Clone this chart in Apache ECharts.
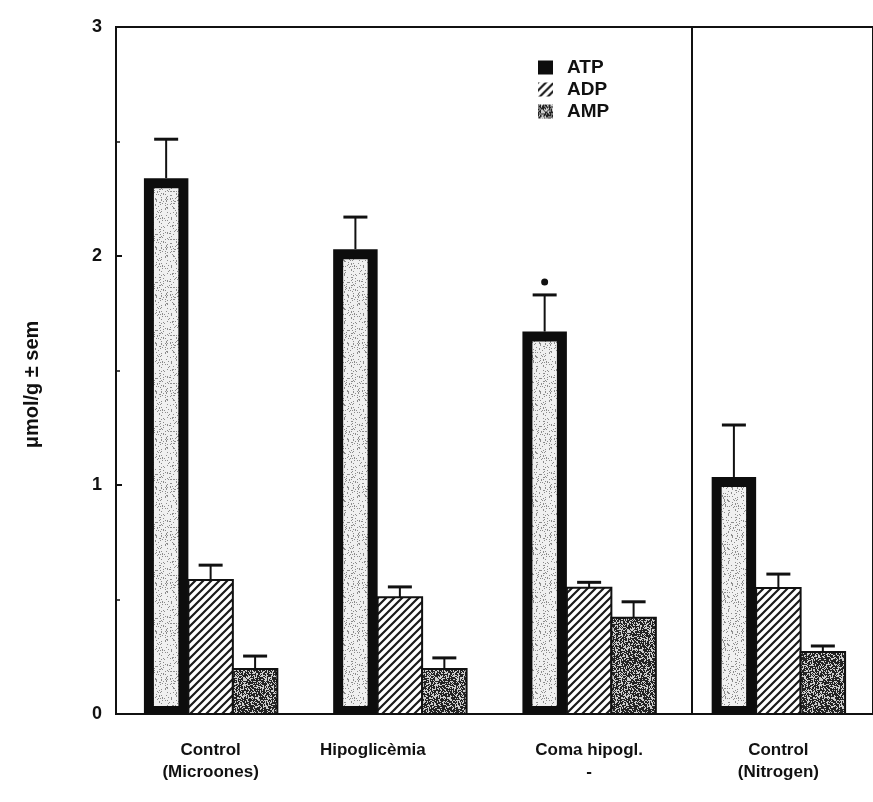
<!DOCTYPE html>
<html>
<head>
<meta charset="utf-8">
<script src="https://cdn.jsdelivr.net/npm/echarts@6/dist/echarts.min.js"></script>
<style>
  html, body { margin: 0; padding: 0; background: #fff; }
  #chart { width: 873px; height: 802px; }
</style>
</head>
<body>
<div id="chart"></div>
<script>
// Adenine nucleotide levels per experimental group (µmol/g, mean and s.e.m.)
const categories = ['Control\n(Microones)', 'Hipoglicèmia', 'Coma hipogl.\n-', 'Control\n(Nitrogen)'];
const atp = [2.34, 2.03, 1.67, 1.035];
const atpSem = [0.17, 0.14, 0.16, 0.227];
const adp = [0.585, 0.51, 0.551, 0.55];
const adpSem = [0.065, 0.045, 0.024, 0.061];
const amp = [0.197, 0.197, 0.42, 0.271];
const ampSem = [0.056, 0.048, 0.07, 0.026];
const significant = [0, 0, 1, 0];
const yTicks = { min: 0, max: 3, interval: 1 };
// separator between the microwave groups and the nitrogen group, in category units
const dividerAt = 3.04;

const FONT = "'Liberation Sans', Arial, Helvetica, sans-serif";

// small deterministic hash used for the stippled textures
function hash(x, y, s) {
  let n = Math.imul(x + 17 * s, 374761393) + Math.imul(y + 31 * s, 668265263);
  n = Math.imul(n ^ (n >>> 13), 1274126177);
  return ((n ^ (n >>> 16)) >>> 0) / 4294967296;
}

function stipple(size, seed, darkProb, dark, light) {
  const c = document.createElement('canvas');
  c.width = size; c.height = size;
  const ctx = c.getContext('2d');
  const img = ctx.createImageData(size, size);
  for (let y = 0; y < size; y++) {
    for (let x = 0; x < size; x++) {
      const v = hash(x, y, seed) < darkProb ? dark : light;
      const k = (y * size + x) * 4;
      img.data[k] = v; img.data[k + 1] = v; img.data[k + 2] = v; img.data[k + 3] = 255;
    }
  }
  ctx.putImageData(img, 0, 0);
  return c;
}

function hatch() {
  const s = 8;
  const c = document.createElement('canvas');
  c.width = s; c.height = s;
  const ctx = c.getContext('2d');
  ctx.fillStyle = '#fff';
  ctx.fillRect(0, 0, s, s);
  ctx.strokeStyle = '#1a1a1a';
  ctx.lineWidth = 2.2;
  ctx.beginPath();
  ctx.moveTo(-2, s + 2); ctx.lineTo(s + 2, -2);
  ctx.moveTo(-2, 2); ctx.lineTo(2, -2);
  ctx.moveTo(s - 2, s + 2); ctx.lineTo(s + 2, s - 2);
  ctx.stroke();
  return c;
}

const atpInner = { image: stipple(48, 1, 0.16, 140, 240), repeat: 'repeat' };
const adpFill = { image: hatch(), repeat: 'repeat' };
const ampFill = { image: stipple(48, 2, 0.62, 35, 205), repeat: 'repeat' };

const BAR_FRAC = 0.235;

function errorBar(cx, y0, y1) {
  return [
    { type: 'line', shape: { x1: cx, y1: y0, x2: cx, y2: y1 }, style: { stroke: '#111', lineWidth: 2 } },
    { type: 'line', shape: { x1: cx - 12, y1: y1, x2: cx + 12, y2: y1 }, style: { stroke: '#111', lineWidth: 3 } }
  ];
}

function makeRender(slot, kind) {
  return function (params, api) {
    const i = api.value(0), v = api.value(1), e = api.value(2), sig = api.value(3);
    const band = api.size([1, 0])[0];
    const w = band * BAR_FRAC;
    const base = api.coord([i, 0]);
    const top = api.coord([i, v]);
    const err = api.coord([i, v + e]);
    const cx = base[0] + slot * w;
    const x0 = cx - w / 2, h = base[1] - top[1];
    const children = [];
    if (kind === 'atp') {
      const b = 10;
      children.push({ type: 'rect', shape: { x: x0, y: top[1], width: w, height: h }, style: { fill: '#0d0d0d' } });
      children.push({ type: 'rect', shape: { x: x0 + b, y: top[1] + b, width: w - 2 * b, height: h - b - 8 }, style: { fill: atpInner } });
    } else {
      children.push({ type: 'rect', shape: { x: x0, y: top[1], width: w, height: h },
        style: { fill: kind === 'adp' ? adpFill : ampFill, stroke: '#111', lineWidth: 2 } });
    }
    children.push(...errorBar(cx, top[1], err[1]));
    if (sig) {
      children.push({ type: 'circle', shape: { cx: cx, cy: err[1] - 13, r: 3.5 }, style: { fill: '#111' } });
    }
    return { type: 'group', children: children };
  };
}

function rows(vals, sems, flags) {
  return vals.map((v, i) => [i, v, sems[i], flags ? flags[i] : 0]);
}

// the middle label sits a little left of its bar group
const categoryItems = categories.map((c, i) =>
  i === 1 ? { value: c, textStyle: { padding: [0, 54, 0, 0] } } : c);

const chart = echarts.init(document.getElementById('chart'), null, { renderer: 'canvas' });
chart.setOption({
  animation: false,
  backgroundColor: '#fff',
  grid: { left: 116, top: 27, right: -5, bottom: 88, show: true, borderColor: '#111', borderWidth: 2, backgroundColor: 'transparent' },
  legend: {
    left: 533, top: 53, orient: 'vertical', icon: 'rect',
    itemWidth: 15, itemHeight: 14, itemGap: 3,
    textStyle: { fontFamily: FONT, fontWeight: 'bold', fontSize: 19, color: '#111', padding: [0, 0, 0, 9] },
    data: [
      { name: 'ATP', itemStyle: { color: '#0d0d0d' } },
      { name: 'ADP', itemStyle: { color: adpFill } },
      { name: 'AMP', itemStyle: { color: ampFill } }
    ]
  },
  xAxis: [{
    type: 'category', data: categoryItems, boundaryGap: true,
    axisLine: { lineStyle: { color: '#111', width: 2 } },
    axisTick: { show: false },
    splitLine: { show: false },
    axisLabel: { fontFamily: FONT, fontWeight: 'bold', fontSize: 17, color: '#111', lineHeight: 22, margin: 25, interval: 0 }
  }, {
    type: 'value', min: 0, max: categories.length, show: false
  }],
  yAxis: {
    type: 'value', min: yTicks.min, max: yTicks.max, interval: yTicks.interval,
    name: 'μmol/g ± sem', nameLocation: 'middle', nameGap: 74,
    nameTextStyle: { fontFamily: FONT, fontWeight: 'bold', fontSize: 20, color: '#111', padding: [0, 28, 0, 0] },
    axisLine: { show: true, lineStyle: { color: '#111', width: 2 } },
    axisTick: { show: true, inside: true, length: 6, lineStyle: { color: '#111', width: 2 } },
    minorTick: { show: true, splitNumber: 2, length: 4, lineStyle: { color: '#111', width: 1.5 } },
    splitLine: { show: false },
    axisLabel: { fontFamily: FONT, fontWeight: 'bold', fontSize: 18, color: '#111', margin: 14 }
  },
  series: [
    { name: 'ATP', type: 'custom', renderItem: makeRender(-1, 'atp'), data: rows(atp, atpSem, significant),
      encode: { x: 0, y: 1 }, itemStyle: { color: '#0d0d0d' } },
    { name: 'ADP', type: 'custom', renderItem: makeRender(0, 'adp'), data: rows(adp, adpSem),
      encode: { x: 0, y: 1 }, itemStyle: { color: adpFill } },
    { name: 'AMP', type: 'custom', renderItem: makeRender(1, 'amp'), data: rows(amp, ampSem),
      encode: { x: 0, y: 1 }, itemStyle: { color: ampFill } },
    { name: 'divider', type: 'line', xAxisIndex: 1, data: [], silent: true,
      markLine: { silent: true, symbol: 'none', label: { show: false },
        lineStyle: { color: '#111', width: 2, type: 'solid' }, data: [{ xAxis: dividerAt }] } }
  ]
});
</script>
</body>
</html>
